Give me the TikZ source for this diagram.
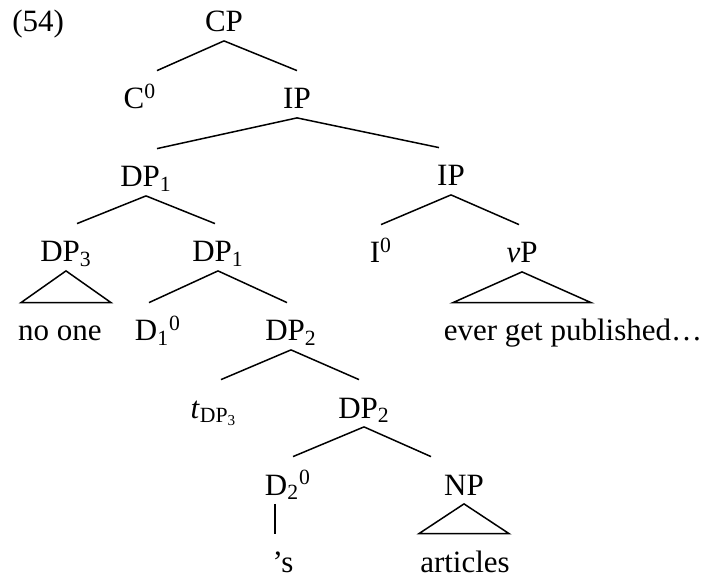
\documentclass[tikz,border=0pt]{standalone}
\usepackage{fontspec}
\setmainfont{Liberation Serif}
\usetikzlibrary{calc}
\tikzset{
  cat/.style={inner sep=0pt, anchor=base, text height=19pt, text depth=4.25pt, font=\fontsize{15.5}{18}\selectfont},
  branch/.style={draw=black, line width=0.75pt},
}

\begin{document}
\begin{tikzpicture}[x=0.5pt, y=-0.5pt]
  \useasboundingbox (0,0) rectangle (707,577);

  % Numero del ejemplo
  \node[cat, anchor=base west] (ex) at (12,32) {(54)};

  % Nodos del arbol
  \node[cat] (cp) at (224,32) {CP};
  \node[cat] (c0) at (140,109) {C\textsuperscript{0}};
  \node[cat] (ip) at (297,109) {IP};
  \node[cat] (dp1) at (146,187) {DP\textsubscript{1}};
  \node[cat] (ipr) at (451,186) {IP};
  \node[cat] (dp3) at (66,262) {DP\textsubscript{3}};
  \node[cat] (dp1b) at (218,262) {DP\textsubscript{1}};
  \node[cat] (i0) at (381,263) {I\textsuperscript{0}};
  \node[cat] (vp) at (522,263) {\textit{v}P};
  \node[cat] (noone) at (60,341) {no one};
  \node[cat] (d1) at (158,341) {D\textsubscript{1}\textsuperscript{0}};
  \node[cat] (dp2) at (291,341) {DP\textsubscript{2}};
  \node[cat] (ever) at (573,341) {ever get published…};
  \node[cat] (tr) at (214,418) {\textit{t}\textsubscript{DP\textsubscript{3}}};
  \node[cat] (dp2b) at (364,418) {DP\textsubscript{2}};
  \node[cat] (d2) at (288,495) {D\textsubscript{2}\textsuperscript{0}};
  \node[cat] (np) at (464,495) {NP};
  \node[cat] (poss) at (283,572) {'s};
  \node[cat] (art) at (465,572) {articles};

  % Ramas
  \draw[branch] (cp.south) -- ([xshift=8.5pt]c0.north);
  \draw[branch] (cp.south) -- (ip.north);
  \draw[branch] (ip.south) -- ([xshift=5.5pt]dp1.north);
  \draw[branch] (ip.south) -- ([xshift=-6pt]ipr.north);
  \draw[branch] (dp1.south) -- ([xshift=5.5pt]dp3.north);
  \draw[branch] (dp1.south) -- ([xshift=-1.5pt]dp1b.north);
  \draw[branch] (ipr.south) -- (i0.north);
  \draw[branch] (ipr.south) -- ([xshift=-1.5pt]vp.north);
  \draw[branch] (dp1b.south) -- ([xshift=-4.5pt]d1.north);
  \draw[branch] (dp1b.south) -- ([xshift=-2pt]dp2.north);
  \draw[branch] (dp2.south) -- ([xshift=3.5pt]tr.north);
  \draw[branch] (dp2.south) -- ([xshift=-2.5pt]dp2b.north);
  \draw[branch] (dp2b.south) -- ([xshift=2.5pt]d2.north);
  \draw[branch] (dp2b.south) -- ([xshift=-16.5pt]np.north);
  \draw[branch] ([xshift=-6.5pt]d2.south) -- ([xshift=-4pt]poss.north);

  % Triangulos
  \draw[branch] (dp3.south) -- ($(dp3.south |- noone.north)+(-45,0)$) -- ($(dp3.south |- noone.north)+(45,0)$) -- cycle;
  \draw[branch] (vp.south) -- ($(vp.south |- ever.north)+(-69,0)$) -- ($(vp.south |- ever.north)+(69,0)$) -- cycle;
  \draw[branch] (np.south) -- ($(np.south |- art.north)+(-45,0)$) -- ($(np.south |- art.north)+(45,0)$) -- cycle;
\end{tikzpicture}
\end{document}
